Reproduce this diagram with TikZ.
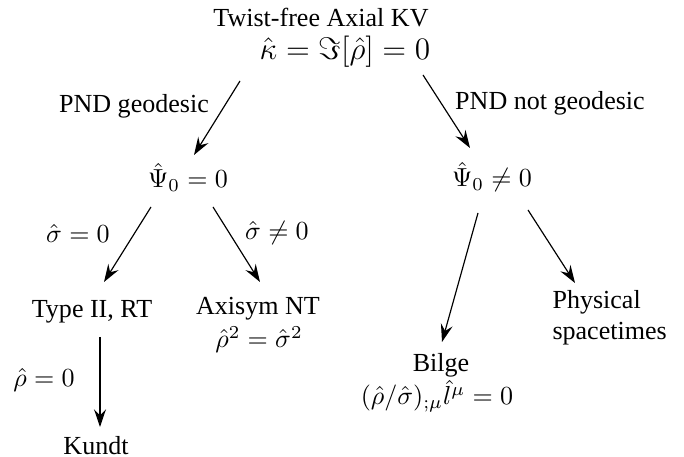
\documentclass[tikz,border=0pt]{standalone}
\usepackage[no-math]{fontspec}
\setmainfont{Liberation Serif}
\usetikzlibrary{arrows.meta}

\begin{document}
\begin{tikzpicture}[x=0.384pt, y=-0.384pt]
	\tikzstyle {branch} = [-{Stealth[length=6.8pt, width=4.6pt, inset=2.4pt]}, line width = 0.45pt];
	\tikzstyle {textlike} = [anchor = base, inner sep = 0pt];
	\useasboundingbox (0, 0) rectangle (684, 457);
	\node[textlike] (title) at (321, 27) {Twist-free Axial KV};
	\node[textlike] (kv) at (345, 60) {\fontsize{13}{15}\selectfont\(\hat\kappa = \Im[\hat\rho] = 0\)};
	\node[textlike] (geo) at (134, 113) {PND geodesic};
	\node[textlike] (nogeo) at (550, 110) {PND not geodesic};
	\node[textlike] (psizero) at (188, 188) {\(\hat\Psi_0 = 0\)};
	\node[textlike] (psinonzero) at (492, 187) {\(\hat\Psi_0 \neq 0\)};
	\node[textlike] (sigzero) at (78, 243) {\(\hat\sigma = 0\)};
	\node[textlike] (signonzero) at (277, 240) {\(\hat\sigma \neq 0\)};
	\node[textlike] (typeii) at (92, 318) {Type II, RT};
	\node[textlike] (axisym) at (258, 315) {Axisym NT};
	\node[textlike] (axisymeq) at (259, 348) {\(\hat\rho^2 = \hat\sigma^2\)};
	\node[textlike] (rhozero) at (44, 387) {\(\hat\rho = 0\)};
	\node[textlike] (kundt) at (96, 455) {Kundt};
	\node[textlike] (bilge) at (441, 372) {Bilge};
	\node[textlike] (bilgeeq) at (437, 405) {\((\hat\rho/\hat\sigma)_{;\mu}\hat{l}^\mu = 0\)};
	\node[anchor = north west, inner sep = 0pt, align = left] (physical) at (552, 290) {Physical\\spacetimes};
	\foreach \firstnode/\firstshift/\secondnode/\secondshift in {kv/{-105, 21}/psizero/{6, -33}, kv/{78, 15}/psinonzero/{-22, -39}, psizero/{-37, 19}/typeii/{12, -36}, psizero/{25, 19}/axisym/{2, -33}, typeii/{8, 19}/kundt/{4, -28}, psinonzero/{-14, 26}/bilge/{1, -30}} {
			\draw[branch] ([shift = {(\firstshift)}]\firstnode.base) -- ([shift = {(\secondshift)}]\secondnode.base);
		}
	\draw[branch] ([shift = {(36, 23)}]psinonzero.base) -- ([shift = {(23, -7)}]physical.north west);
\end{tikzpicture}
\end{document}
